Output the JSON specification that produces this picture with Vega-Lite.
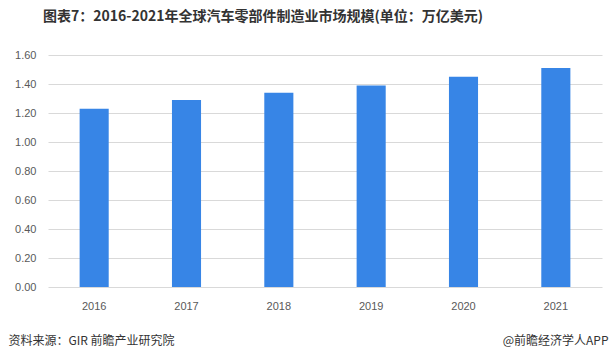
{
  "$schema": "https://vega.github.io/schema/vega-lite/v6.json",
  "width": 554,
  "height": 232,
  "autosize": "none",
  "padding": {"left": 48, "top": 55, "right": 10, "bottom": 74},
  "background": "white",
  "title": {
    "text": "图表7：2016-2021年全球汽车零部件制造业市场规模(单位：万亿美元)",
    "font": "Noto Sans CJK SC",
    "fontSize": 14,
    "fontWeight": "bold",
    "color": "#333333",
    "anchor": "start",
    "frame": "group",
    "dx": -5,
    "offset": 25
  },
  "data": {
    "values": [
      {"year": "2016", "value": 1.23},
      {"year": "2017", "value": 1.29},
      {"year": "2018", "value": 1.34},
      {"year": "2019", "value": 1.39},
      {"year": "2020", "value": 1.45},
      {"year": "2021", "value": 1.51}
    ]
  },
  "layer": [
    {
      "mark": {"type": "bar", "color": "#3785E6"},
      "encoding": {
        "x": {
          "field": "year",
          "type": "ordinal",
          "scale": {"paddingInner": 0.685, "paddingOuter": 0.3425},
          "axis": {
            "title": "资料来源：GIR 前瞻产业研究院",
            "titleFont": "Noto Sans CJK SC",
            "titleFontSize": 12,
            "titleFontWeight": "normal",
            "titleColor": "#333333",
            "titleAnchor": "start",
            "titleAlign": "left",
            "titleBaseline": "middle",
            "titleX": -40,
            "titleY": 53,
            "labelAngle": 0,
            "labelFont": "Liberation Sans",
            "labelFontSize": 11,
            "labelColor": "#595959",
            "labelPadding": 13,
            "ticks": false,
            "domain": false,
            "grid": false
          }
        },
        "y": {
          "field": "value",
          "type": "quantitative",
          "scale": {"domain": [0, 1.6]},
          "axis": {
            "title": null,
            "values": [0, 0.2, 0.4, 0.6, 0.8, 1.0, 1.2, 1.4, 1.6],
            "format": ".2f",
            "labelFont": "Liberation Sans",
            "labelFontSize": 11,
            "labelColor": "#595959",
            "labelPadding": 12,
            "ticks": false,
            "domain": false,
            "grid": true,
            "gridColor": "#D9D9D9",
            "gridWidth": 1
          }
        }
      }
    },
    {
      "mark": {"type": "bar", "opacity": 0},
      "encoding": {
        "x": {"field": "year", "type": "ordinal"},
        "y": {
          "field": "value",
          "type": "quantitative",
          "scale": {"domain": [0, 1.6]},
          "axis": {
            "orient": "right",
            "title": "@前瞻经济学人APP",
            "titleFont": "Noto Sans CJK SC",
            "titleFontSize": 12,
            "titleFontWeight": "normal",
            "titleColor": "#333333",
            "titleAngle": 0,
            "titleAlign": "right",
            "titleBaseline": "middle",
            "titleX": 6,
            "titleY": 285,
            "labels": false,
            "ticks": false,
            "domain": false,
            "grid": false
          }
        }
      }
    }
  ],
  "resolve": {"scale": {"y": "independent"}},
  "config": {"view": {"stroke": null}}
}
